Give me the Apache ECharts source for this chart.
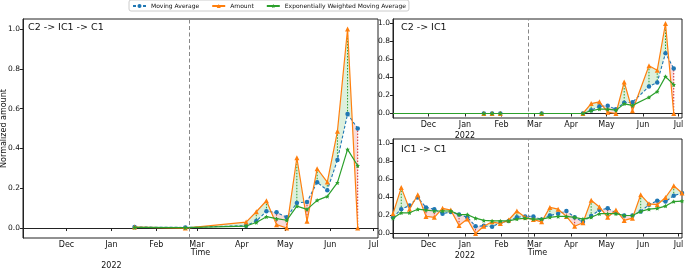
<!DOCTYPE html>
<html>
<head>
<meta charset="utf-8">
<script src="https://cdn.jsdelivr.net/npm/echarts@6/dist/echarts.min.js"></script>
<style>
  html, body { margin: 0; padding: 0; background: #fff; }
  #chart { width: 685px; height: 268px; }
</style>
</head>
<body>
<div id="chart"></div>
<script>
  // C2 -> IC1 -> C1 (left panel)
  const chainDates = ['2022-01-17', '2022-02-21', '2022-04-04', '2022-04-11', '2022-04-18', '2022-04-25', '2022-05-02',
    '2022-05-09', '2022-05-16', '2022-05-23', '2022-05-30', '2022-06-06', '2022-06-13', '2022-06-20'];
  const chainAmount = [0.005, 0.0, 0.03, 0.082, 0.137, 0.017, 0.0, 0.353, 0.034, 0.298, 0.231, 0.486, 1.0, 0.0];
  const chainMA = [0.005, 0.003, 0.012, 0.035, 0.084, 0.079, 0.054, 0.126, 0.131, 0.23, 0.19, 0.342, 0.573, 0.50];
  const chainEWMA = [0.003, 0.002, 0.01, 0.028, 0.057, 0.047, 0.039, 0.11, 0.094, 0.139, 0.159, 0.228, 0.395, 0.313];

  // C2 -> IC1 (top right)
  const c2Dates = ['2021-11-01', '2022-01-17', '2022-01-24', '2022-01-31', '2022-03-07', '2022-04-11', '2022-04-18',
    '2022-04-25', '2022-05-02', '2022-05-09', '2022-05-16', '2022-05-23', '2022-06-06', '2022-06-13', '2022-06-20', '2022-06-27'];
  const c2Amount = [0, 0, 0, 0, 0, 0, 0.11, 0.13, 0.015, 0.0, 0.35, 0.03, 0.53, 0.48, 1.0, 0.0];
  const c2MA = [0, 0, 0, 0, 0, 0, 0.037, 0.08, 0.085, 0.048, 0.12, 0.125, 0.30, 0.345, 0.67, 0.50];
  const c2EWMA = [0, 0, 0, 0, 0, 0, 0.03, 0.05, 0.048, 0.037, 0.107, 0.09, 0.18, 0.245, 0.41, 0.32];

  // IC1 -> C1 (bottom right)
  const ic1Dates = ['2021-11-01', '2021-11-08', '2021-11-15', '2021-11-22', '2021-11-29', '2021-12-06', '2021-12-13',
    '2021-12-20', '2021-12-27', '2022-01-03', '2022-01-10', '2022-01-17', '2022-01-24', '2022-01-31', '2022-02-07',
    '2022-02-14', '2022-02-21', '2022-02-28', '2022-03-07', '2022-03-14', '2022-03-21', '2022-03-28', '2022-04-04',
    '2022-04-11', '2022-04-18', '2022-04-25', '2022-05-02', '2022-05-09', '2022-05-16', '2022-05-23', '2022-05-30',
    '2022-06-06', '2022-06-13', '2022-06-20', '2022-06-27', '2022-07-04'];
  const ic1Amount = [0.22, 0.51, 0.27, 0.43, 0.19, 0.18, 0.28, 0.26, 0.09, 0.16, 0.0, 0.08, 0.13, 0.11, 0.15, 0.25,
    0.18, 0.155, 0.13, 0.29, 0.27, 0.19, 0.08, 0.12, 0.37, 0.295, 0.18, 0.26, 0.145, 0.17, 0.43, 0.33, 0.32, 0.40, 0.53, 0.45];
  const ic1MA = [0.18, 0.27, 0.31, 0.40, 0.29, 0.27, 0.22, 0.24, 0.21, 0.18, 0.08, 0.085, 0.075, 0.12, 0.14, 0.18,
    0.19, 0.19, 0.155, 0.20, 0.22, 0.25, 0.18, 0.13, 0.195, 0.26, 0.28, 0.23, 0.20, 0.20, 0.245, 0.32, 0.365, 0.355, 0.42, 0.45];
  const ic1EWMA = [0.17, 0.23, 0.23, 0.27, 0.26, 0.25, 0.25, 0.25, 0.21, 0.21, 0.17, 0.145, 0.14, 0.14, 0.14, 0.16,
    0.17, 0.16, 0.16, 0.18, 0.19, 0.19, 0.18, 0.16, 0.18, 0.22, 0.22, 0.22, 0.20, 0.20, 0.245, 0.27, 0.28, 0.305, 0.355, 0.36];

  const monthTicks = ['2021-12-01', '2022-01-01', '2022-02-01', '2022-03-01', '2022-04-01', '2022-05-01', '2022-06-01', '2022-07-01'];
  const monthLabels = ['Dec', 'Jan', 'Feb', 'Mar', 'Apr', 'May', 'Jun', 'Jul'];
  const yTicks = [0, 0.2, 0.4, 0.6, 0.8, 1.0];
  const invasionDate = '2022-02-24';
  const xStart = '2021-11-01';
  const xEnd = '2022-07-04';

  const FONT = 'DejaVu Sans';
  const BLUE = '#1f77b4', ORANGE = '#ff7f0e', GREEN = '#2ca02c', RED = '#d62728';
  const ms = s => Date.parse(s + 'T00:00:00Z');
  const monthTs = monthTicks.map(ms);

  const panels = [
    { title: 'C2 -> IC1 -> C1', dates: chainDates, amount: chainAmount, ma: chainMA, ewma: chainEWMA,
      grid: { left: 23, top: 19, width: 355, height: 219 }, titlePos: [28, 23], yearGap: '\n\n', timeName: true, yName: true },
    { title: 'C2 -> IC1', dates: c2Dates, amount: c2Amount, ma: c2MA, ewma: c2EWMA, hideFirst: true,
      grid: { left: 393, top: 19, width: 289, height: 99 }, titlePos: [401, 23], yearGap: '\n' },
    { title: 'IC1 -> C1', dates: ic1Dates, amount: ic1Amount, ma: ic1MA, ewma: ic1EWMA,
      grid: { left: 393, top: 139, width: 289, height: 99 }, titlePos: [401, 145], yearGap: '\n', timeName: true }
  ];

  const starPath = 'path://M0,-10L2.9,-4 9.5,-3.1 4.7,1.5 5.9,8.1 0,5 -5.9,8.1 -4.7,1.5 -9.5,-3.1 -2.9,-4Z';

  function fillItem(params, api) {
    const t0 = api.value(0), a0 = api.value(1), m0 = api.value(2);
    const t1 = api.value(3), a1 = api.value(4), m1 = api.value(5);
    const d0 = a0 - m0, d1 = a1 - m1;
    const poly = (pts, up) => ({
      type: 'polygon',
      shape: { points: pts.map(p => api.coord(p)) },
      style: { fill: up ? 'rgba(44,160,44,0.16)' : 'rgba(214,39,40,0.16)', stroke: null }
    });
    const kids = [];
    if (d0 * d1 >= 0) {
      kids.push(poly([[t0, a0], [t1, a1], [t1, m1], [t0, m0]], d0 + d1 >= 0));
    } else {
      const f = d0 / (d0 - d1);
      const tc = t0 + f * (t1 - t0), vc = a0 + f * (a1 - a0);
      kids.push(poly([[t0, a0], [tc, vc], [t0, m0]], d0 > 0));
      kids.push(poly([[tc, vc], [t1, a1], [t1, m1]], d1 > 0));
    }
    return { type: 'group', children: kids };
  }

  function stemItem(params, api) {
    const t = api.value(0), a = api.value(1), m = api.value(2);
    const p0 = api.coord([t, a]), p1 = api.coord([t, m]);
    return {
      type: 'line',
      shape: { x1: p0[0], y1: p0[1], x2: p1[0], y2: p1[1] },
      style: { stroke: a >= m ? GREEN : RED, lineWidth: 1, lineDash: [1.5, 1.5] }
    };
  }

  const grids = [], xAxes = [], yAxes = [], titles = [], series = [];
  panels.forEach((p, k) => {
    grids.push(Object.assign({
      show: true, borderColor: '#222', borderWidth: 1, backgroundColor: 'transparent',
      containLabel: false, outerBoundsMode: 'none'
    }, p.grid));
    xAxes.push({
      type: 'value', gridIndex: k, min: ms(xStart), max: ms(xEnd), scale: true,
      axisLine: { show: true, lineStyle: { color: '#222', width: 1 } },
      axisTick: { show: true, customValues: monthTs, length: 3, lineStyle: { color: '#222' } },
      axisLabel: {
        customValues: monthTs, fontSize: 8, margin: 2, lineHeight: 10.5, color: '#111', fontFamily: FONT,
        interval: 0, hideOverlap: false, showMinLabel: true, showMaxLabel: true,
        formatter: v => {
          const i = monthTs.indexOf(v);
          const lab = monthLabels[i] || '';
          return lab === 'Jan' ? lab + p.yearGap + '2022' : lab;
        }
      },
      splitLine: { show: false },
      name: p.timeName ? 'Time' : '', nameLocation: 'middle', nameGap: 11, nameMoveOverlap: false,
      nameTextStyle: { fontSize: 8, color: '#111', fontFamily: FONT, verticalAlign: 'top' }
    });
    yAxes.push({
      type: 'value', gridIndex: k, min: -0.05, max: 1.05,
      axisLine: { show: true, lineStyle: { color: '#222', width: 1 } },
      axisTick: { show: true, customValues: yTicks, length: 3, lineStyle: { color: '#222' } },
      axisLabel: {
        customValues: yTicks, fontSize: 7.5, margin: 3, color: '#111', fontFamily: FONT,
        interval: 0, hideOverlap: false, showMinLabel: true, showMaxLabel: true,
        formatter: v => v.toFixed(1)
      },
      splitLine: { show: false },
      name: p.yName ? 'Normalized amount' : '', nameLocation: 'middle', nameGap: 15, nameMoveOverlap: false,
      nameTextStyle: { fontSize: 8, color: '#111', fontFamily: FONT }
    });
    titles.push({
      text: p.title, left: p.titlePos[0], top: p.titlePos[1], padding: 0,
      textStyle: { fontSize: 9.5, fontWeight: 'normal', color: '#111', fontFamily: FONT }
    });

    const ts = p.dates.map(ms);
    const pts = arr => arr.map((v, i) => (p.hideFirst && i === 0) ? { value: [ts[i], v], symbol: 'none' } : [ts[i], v]);
    const segs = [], stems = [];
    for (let i = 0; i < ts.length; i++) {
      if (i < ts.length - 1) segs.push([ts[i], p.amount[i], p.ma[i], ts[i + 1], p.amount[i + 1], p.ma[i + 1]]);
      if (p.amount[i] !== p.ma[i]) stems.push([ts[i], p.amount[i], p.ma[i]]);
    }

    series.push({
      type: 'custom', xAxisIndex: k, yAxisIndex: k, renderItem: fillItem, data: segs, clip: true, silent: true, z: 1,
      encode: { x: [0, 3], y: [1, 2, 4, 5] }
    });
    series.push({
      type: 'line', name: 'Moving Average', xAxisIndex: k, yAxisIndex: k, data: pts(p.ma), z: 3,
      symbol: 'circle', symbolSize: 4.5, color: BLUE,
      lineStyle: { color: BLUE, width: 1.1, type: [3, 2] }, itemStyle: { color: BLUE },
      markLine: {
        silent: true, symbol: ['none', 'none'], label: { show: false }, animation: false,
        lineStyle: { color: '#888', width: 1, type: [4, 2.5] },
        data: [{ xAxis: ms(invasionDate) }]
      }
    });
    series.push({
      type: 'line', name: 'Amount', xAxisIndex: k, yAxisIndex: k, data: pts(p.amount), z: 4,
      symbol: 'triangle', symbolSize: 5, color: ORANGE,
      lineStyle: { color: ORANGE, width: 1.2 }, itemStyle: { color: ORANGE }
    });
    series.push({
      type: 'line', name: 'Exponentially Weighted Moving Average', xAxisIndex: k, yAxisIndex: k, data: pts(p.ewma), z: 5,
      symbol: starPath, symbolSize: 4.5, color: GREEN,
      lineStyle: { color: GREEN, width: 1.2 }, itemStyle: { color: GREEN }
    });
    series.push({
      type: 'custom', xAxisIndex: k, yAxisIndex: k, renderItem: stemItem, data: stems, clip: true, silent: true, z: 2,
      encode: { x: 0, y: [1, 2] }
    });
  });

  const chart = echarts.init(document.getElementById('chart'));
  chart.setOption({
    animation: false,
    backgroundColor: '#fff',
    textStyle: { fontFamily: FONT },
    title: titles,
    legend: {
      top: 0, left: 129, padding: [3, 3, 2, 3], itemGap: 12, itemWidth: 13, itemHeight: 5,
      borderColor: '#ccc', borderWidth: 1, borderRadius: 2, backgroundColor: '#fff',
      textStyle: { fontSize: 6, color: '#111', fontFamily: FONT },
      data: ['Moving Average', 'Amount', 'Exponentially Weighted Moving Average']
    },
    grid: grids,
    xAxis: xAxes,
    yAxis: yAxes,
    series: series
  });
</script>
</body>
</html>
